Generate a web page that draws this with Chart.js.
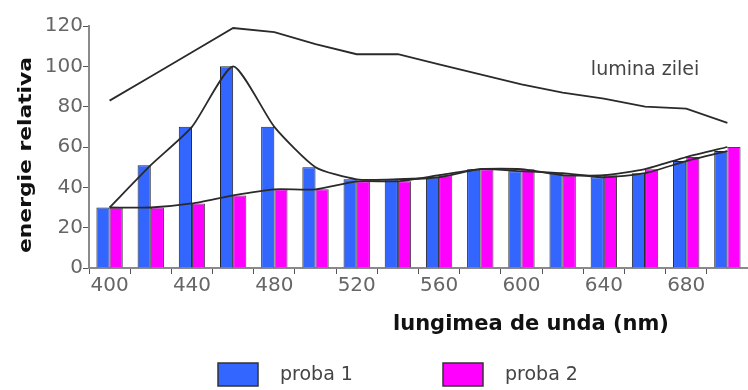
<!DOCTYPE html>
<html>
<head>
<meta charset="utf-8">
<script src="https://cdn.jsdelivr.net/npm/chart.js@4.4.1/dist/chart.umd.min.js"></script>
<style>
  html, body { margin: 0; padding: 0; background: #fff; }
  #wrap { width: 748px; height: 390px; position: relative; }
</style>
</head>
<body>
<div id="wrap"><canvas id="spectrumChart"></canvas></div>
<script>
// wavelengths (nm) and relative energy per sample
const wavelengths = ['400', '420', '440', '460', '480', '500', '520', '540', '560', '580', '600', '620', '640', '660', '680', '700'];
const xTickLabels = ['400', '', '440', '', '480', '', '520', '', '560', '', '600', '', '640', '', '680', ''];
const proba1 = [30, 51, 70, 100, 70, 50, 44, 44, 45, 49, 48, 47, 45, 47, 53, 58];
const proba2 = [30, 30, 32, 36, 39, 39, 43, 43, 46, 49, 49, 46, 46, 49, 55, 60];
const luminaZilei = [83, 95, 107, 119, 117, 111, 106, 106, 101, 96, 91, 87, 84, 80, 79, 72];
const yTicks = [0, 20, 40, 60, 80, 100, 120];

const BLUE = '#3366ff';
const MAGENTA = '#ff00ff';
const LINE = '#2a2a2a';
const AXIS = '#8a8a8a';

Chart.defaults.font.family = 'DejaVu Sans';

// titles, the daylight label and the legend are drawn by hand
const decorPlugin = {
    id: 'decor',
    afterDraw(chart) {
        const ctx = chart.ctx;
        const x = chart.scales.x;
        const y = chart.scales.y;
        ctx.save();

        // x axis title
        ctx.fillStyle = '#111';
        ctx.font = 'bold 21px "DejaVu Sans"';
        ctx.textAlign = 'left';
        ctx.textBaseline = 'middle';
        ctx.fillText('lungimea de unda (nm)', 393, 325);

        // y axis title, stretched along its length
        ctx.save();
        ctx.translate(27, 155);
        ctx.rotate(-Math.PI / 2);
        ctx.font = 'bold 17px "DejaVu Sans"';
        const yTitle = 'energie relativa';
        const w = ctx.measureText(yTitle).width;
        ctx.scale(196 / w, 1);
        ctx.textAlign = 'center';
        ctx.fillText(yTitle, 0, 0);
        ctx.restore();

        // daylight curve label
        ctx.fillStyle = '#444';
        ctx.font = '19px "DejaVu Sans"';
        ctx.textAlign = 'center';
        ctx.fillText('lumina zilei', x.getPixelForValue(13), y.getPixelForValue(98));

        // legend for the two bar series
        const bars = chart.data.datasets.filter(d => d.type === 'bar');
        const boxX = [218, 443];
        bars.forEach((ds, i) => {
            ctx.fillStyle = ds.backgroundColor;
            ctx.fillRect(boxX[i], 363, 40, 23);
            ctx.strokeStyle = '#333';
            ctx.lineWidth = 1.5;
            ctx.strokeRect(boxX[i], 363, 40, 23);
            ctx.fillStyle = '#444';
            ctx.font = '19px "DejaVu Sans"';
            ctx.textAlign = 'left';
            ctx.fillText(ds.label, boxX[i] + 62, 375);
        });
        ctx.restore();
    }
};

new Chart(document.getElementById('spectrumChart'), {
    data: {
        labels: wavelengths,
        datasets: [
            {
                type: 'line',
                label: 'lumina zilei',
                data: luminaZilei,
                borderColor: LINE,
                borderWidth: 1.8,
                pointRadius: 0,
                tension: 0,
                order: 0
            },
            {
                type: 'line',
                label: 'proba 1 curve',
                data: proba1,
                borderColor: LINE,
                borderWidth: 1.8,
                pointRadius: 0,
                tension: 0.2,
                order: 0
            },
            {
                type: 'line',
                label: 'proba 2 curve',
                data: proba2,
                borderColor: LINE,
                borderWidth: 1.8,
                pointRadius: 0,
                tension: 0.2,
                order: 0
            },
            {
                type: 'bar',
                label: 'proba 1',
                data: proba1,
                backgroundColor: BLUE,
                borderColor: '#222',
                borderWidth: 1,
                categoryPercentage: 0.64,
                barPercentage: 1,
                order: 1
            },
            {
                type: 'bar',
                label: 'proba 2',
                data: proba2,
                backgroundColor: MAGENTA,
                borderColor: '#444',
                borderWidth: 1,
                categoryPercentage: 0.64,
                barPercentage: 1,
                order: 1
            }
        ]
    },
    options: {
        responsive: true,
        maintainAspectRatio: false,
        animation: false,
        layout: { padding: { top: 26, right: 0, bottom: 0, left: 0 } },
        plugins: {
            legend: { display: false },
            tooltip: { enabled: false }
        },
        scales: {
            x: {
                offset: true,
                border: { display: true, color: AXIS, width: 2 },
                grid: {
                    offset: true,
                    drawOnChartArea: false,
                    drawTicks: true,
                    tickLength: 6,
                    color: '#555'
                },
                ticks: {
                    autoSkip: false,
                    maxRotation: 0,
                    padding: 0,
                    color: '#666',
                    font: { size: 20 },
                    callback: (val, i) => xTickLabels[i]
                },
                afterFit: scale => { scale.height = 122; }
            },
            y: {
                min: 0,
                max: 120,
                border: { display: true, color: AXIS, width: 2 },
                grid: {
                    drawOnChartArea: false,
                    drawTicks: true,
                    tickLength: 6,
                    color: '#555'
                },
                afterBuildTicks: scale => {
                    scale.ticks = yTicks.map(v => ({ value: v }));
                },
                ticks: {
                    padding: 0,
                    color: '#666',
                    font: { size: 20 }
                },
                afterFit: scale => { scale.width = 89; }
            }
        }
    },
    plugins: [decorPlugin]
});
</script>
</body>
</html>
